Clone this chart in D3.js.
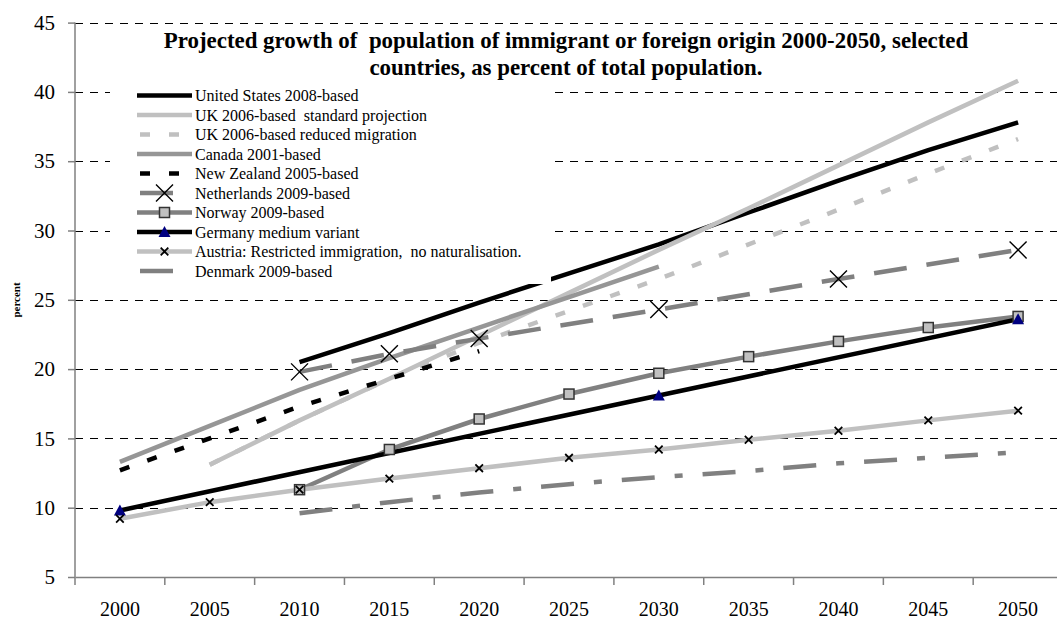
<!DOCTYPE html>
<html>
<head>
<meta charset="utf-8">
<script src="https://cdn.jsdelivr.net/npm/d3@7"></script>
<style>
  html, body { margin: 0; padding: 0; background: #fff; }
  svg { display: block; }
  text { font-family: "Liberation Serif", "Times New Roman", serif; }
</style>
</head>
<body>
<svg id="chart" width="1057" height="619"></svg>
<script>
// ---------- data ----------
const years = ["2000","2005","2010","2015","2020","2025","2030","2035","2040","2045","2050"];
const yTicks = [5, 10, 15, 20, 25, 30, 35, 40, 45];

const usValues        = [null, null, 20.5, 22.6, 24.8, 26.9, 29.0, 31.3, 33.6, 35.8, 37.8];
const ukStdValues     = [null, 13.1, 16.3, 19.3, 22.4, 25.5, 28.6, 31.6, 34.7, 37.8, 40.8];
const ukRedValues     = [null, 13.1, 16.3, 19.3, 21.9, 24.2, 26.5, 29.0, 31.5, 34.1, 36.6];
const canadaValues    = [13.3, 15.9, 18.5, 20.8, 23.0, 25.2, 27.4, null, null, null, null];
const nzValues        = [12.7, 15.0, 17.3, 19.3, 21.3, null, null, null, null, null, null];
const nlValues        = [null, null, 19.8, 21.1, 22.2, null, 24.3, null, 26.5, null, 28.6];
const norwayValues    = [null, null, 11.3, 14.2, 16.4, 18.2, 19.7, 20.9, 22.0, 23.0, 23.8];
const germanyValues   = [9.8, null, null, null, null, null, 18.1, null, null, null, 23.6];
const austriaValues   = [9.2, 10.4, 11.3, 12.1, 12.85, 13.6, 14.2, 14.9, 15.55, 16.3, 17.0];
const denmarkValues   = [null, null, 9.6, 10.4, 11.1, 11.7, 12.2, 12.65, 13.2, 13.6, 14.0];

const seriesNames = [
  "United States 2008-based",
  "UK 2006-based  standard projection",
  "UK 2006-based reduced migration",
  "Canada 2001-based",
  "New Zealand 2005-based",
  "Netherlands 2009-based",
  "Norway 2009-based",
  "Germany medium variant",
  "Austria: Restricted immigration,  no naturalisation.",
  "Denmark 2009-based"
];
const titleLines = [
  "Projected growth of  population of immigrant or foreign origin 2000-2050, selected",
  "countries, as percent of total population."
];
const yLabel = "percent";

// ---------- styles ----------
const styles = [
  {values: usValues,      color: "#000000", dash: null,          marker: null},
  {values: ukStdValues,   color: "#c0c0c0", dash: null,          marker: null},
  {values: ukRedValues,   color: "#c0c0c0", dash: "10,19",       marker: null},
  {values: canadaValues,  color: "#969696", dash: null,          marker: null},
  {values: nzValues,      color: "#000000", dash: "10,19",       marker: null},
  {values: nlValues,      color: "#808080", dash: "33,20",       marker: "bigx"},
  {values: norwayValues,  color: "#808080", dash: null,          marker: "square"},
  {values: germanyValues, color: "#000000", dash: null,          marker: "triangle"},
  {values: austriaValues, color: "#c0c0c0", dash: null,          marker: "smallx"},
  {values: denmarkValues, color: "#808080", dash: "33,20,8,20",  marker: null}
];
const series = seriesNames.map((name, i) => Object.assign({name}, styles[i]));

// ---------- layout ----------
const FONT = "Liberation Serif, Times New Roman, serif";
const svg = d3.select("#chart");
const plotL = 75, plotR = 1063, plotT = 22.6, plotB = 577;
const lineW = 4.5;

const x = d3.scaleBand().domain(years).range([plotL, plotR]).padding(0);
const xc = d => x(d) + x.bandwidth() / 2;
const y = d3.scaleLinear().domain([5, 45]).range([plotB, plotT]);

// gridlines
svg.append("g").selectAll("line")
  .data(yTicks.filter(t => t > 5))
  .join("line")
  .attr("x1", plotL).attr("x2", plotR)
  .attr("y1", d => Math.round(y(d)) + 0.5).attr("y2", d => Math.round(y(d)) + 0.5)
  .attr("stroke", "#000").attr("stroke-width", 1)
  .attr("stroke-dasharray", "8,7");

// axes
const yAxis = svg.append("g")
  .attr("transform", `translate(${plotL},0)`)
  .call(d3.axisLeft(y).tickValues(yTicks).tickSize(7).tickPadding(13).tickFormat(d3.format("d")))
  .attr("font-family", FONT).attr("font-size", 21);
yAxis.select(".domain").attr("stroke", "#808080").attr("stroke-width", 1.5).attr("d", `M0,${plotT}V${plotB}`);
yAxis.selectAll(".tick line").attr("stroke", "#808080").attr("stroke-width", 1.5);
yAxis.selectAll(".tick text").attr("fill", "#000");

const xAxis = svg.append("g")
  .attr("transform", `translate(0,${plotB})`)
  .call(d3.axisBottom(x).tickSize(0).tickPadding(25))
  .attr("font-family", FONT).attr("font-size", 20);
xAxis.select(".domain").attr("stroke", "#808080").attr("stroke-width", 1.5);
xAxis.selectAll(".tick text").attr("fill", "#000");
// category boundary ticks
svg.append("g").selectAll("line")
  .data(years.map(d => x(d)).concat([x(years[years.length - 1]) + x.bandwidth()]))
  .join("line")
  .attr("x1", d => d).attr("x2", d => d)
  .attr("y1", plotB).attr("y2", plotB + 8)
  .attr("stroke", "#808080").attr("stroke-width", 1.5);

// series lines
const line = d3.line().x(d => xc(d.year)).y(d => y(d.v));
const pts = s => years.map((year, i) => ({year, v: s.values[i]})).filter(d => d.v != null);

const linesG = svg.append("g");
series.forEach(s => {
  linesG.append("path")
    .attr("d", line(pts(s)))
    .attr("fill", "none")
    .attr("stroke", s.color)
    .attr("stroke-width", lineW)
    .attr("stroke-linejoin", "round")
    .attr("stroke-dasharray", s.dash);
});

// markers
function drawMarker(g, type, cx, cy) {
  if (type === "bigx") {
    const r = 8.5;
    g.append("path").attr("d", `M${cx-r},${cy-r}L${cx+r},${cy+r}M${cx-r},${cy+r}L${cx+r},${cy-r}`)
      .attr("stroke", "#000").attr("stroke-width", 1.4).attr("fill", "none");
  } else if (type === "smallx") {
    const r = 3.8;
    g.append("path").attr("d", `M${cx-r},${cy-r}L${cx+r},${cy+r}M${cx-r},${cy+r}L${cx+r},${cy-r}`)
      .attr("stroke", "#000").attr("stroke-width", 1.8).attr("fill", "none");
  } else if (type === "square") {
    const r = 5;
    g.append("rect").attr("x", cx - r).attr("y", cy - r).attr("width", 2 * r).attr("height", 2 * r)
      .attr("fill", "#c0c0c0").attr("stroke", "#333").attr("stroke-width", 1.5);
  } else if (type === "triangle") {
    g.append("path").attr("d", `M${cx},${cy-6}L${cx+6},${cy+5}L${cx-6},${cy+5}Z`)
      .attr("fill", "#000080");
  }
}
const markG = svg.append("g");
series.forEach(s => {
  if (!s.marker) return;
  pts(s).forEach(d => drawMarker(markG, s.marker, xc(d.year), y(d.v)));
});

// legend
const legX = 110, legY = 84, legW = 441, legH = 200;
const leg = svg.append("g");
leg.append("rect").attr("x", legX).attr("y", legY).attr("width", legW).attr("height", legH).attr("fill", "#fff");
const rowY0 = 95.5, rowStep = 19.5;
series.forEach((s, i) => {
  const cy = rowY0 + i * rowStep;
  let x1 = 137, x2 = 192;
  if (s.dash === "33,20" || s.dash === "33,20,8,20") { x1 = 140; x2 = 173; }
  if (s.dash === "10,19") { x1 = 140; x2 = 192; }
  leg.append("line").attr("x1", x1).attr("x2", x2).attr("y1", cy).attr("y2", cy)
    .attr("stroke", s.color).attr("stroke-width", lineW).attr("stroke-dasharray", s.dash);
  if (s.marker) drawMarker(leg, s.marker, 164.5, cy);
  leg.append("text").attr("x", 195).attr("y", cy + 5.5).attr("font-size", 16).attr("fill", "#000")
    .attr("font-family", FONT)
    .text(s.name).style("white-space", "pre");
});

// title
svg.append("g").selectAll("text")
  .data(titleLines)
  .join("text")
  .attr("x", 566).attr("y", (d, i) => 48 + i * 27)
  .attr("text-anchor", "middle")
  .attr("font-family", FONT)
  .attr("font-size", 22.9).attr("font-weight", "bold").attr("fill", "#000")
  .style("white-space", "pre")
  .text(d => d);

// y label
svg.append("text")
  .attr("transform", "translate(20,300) rotate(-90)")
  .attr("text-anchor", "middle")
  .attr("font-family", FONT)
  .attr("font-size", 11).attr("font-weight", "bold").attr("fill", "#000")
  .text(yLabel);
</script>
</body>
</html>
